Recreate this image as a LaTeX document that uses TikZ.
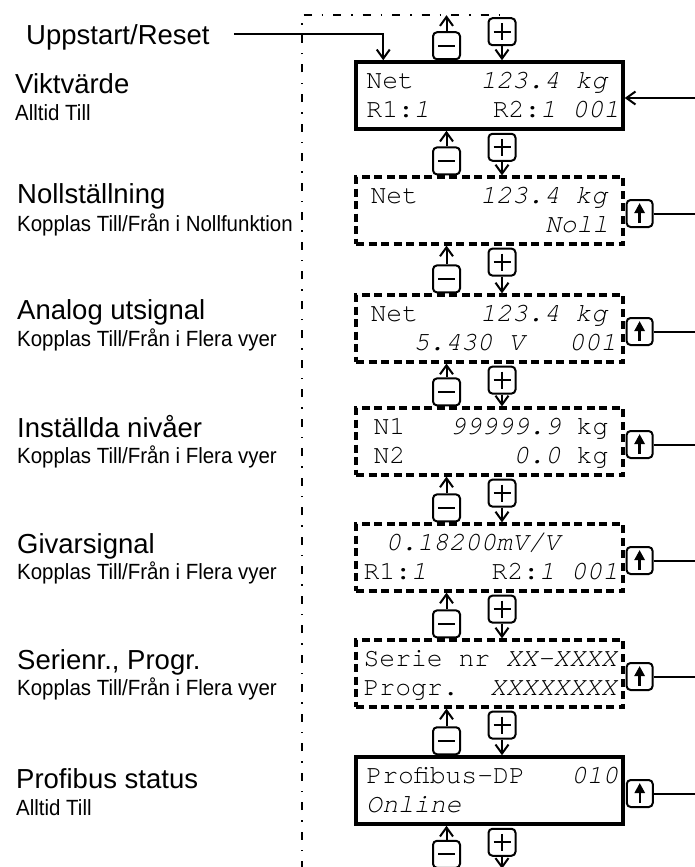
\documentclass[tikz,border=0pt]{standalone}
\usepackage{fontspec}
\setmainfont{Liberation Sans}
\setmonofont{TeX Gyre Cursor}
\newfontfamily\narrowsans[FakeStretch=0.93]{Liberation Sans}
\usetikzlibrary{arrows.meta,positioning}
\newcommand\headfont{\fontsize{27.5}{33}\selectfont}
\newcommand\subfont{\narrowsans\fontsize{22}{26}\selectfont}
\newcommand\lcdfont{\ttfamily\fontsize{26.4}{30}\selectfont}

\begin{document}
\begin{tikzpicture}[x=1pt, y=-1pt,
  head/.style={font=\headfont, inner sep=0pt, anchor=base west},
  sub/.style={font=\subfont, inner sep=0pt, anchor=base west},
  lcd/.style={draw, line width=3.5pt, minimum width=267pt, minimum height=67pt, inner sep=0pt},
  lcddash/.style={lcd, line width=3.2pt, dash pattern=on 8pt off 4.5pt},
  txt/.style={font=\lcdfont, inner sep=0pt, anchor=base west},
  txtr/.style={txt, anchor=base east},
  btn/.style={draw, line width=2pt, rounded corners=4pt, minimum width=27pt,
              minimum height=27pt, inner sep=0pt},
  minusbtn/.style={btn, path picture={\draw[line width=2pt]
      ([xshift=5pt]path picture bounding box.west) -- ([xshift=-5pt]path picture bounding box.east);}},
  plusbtn/.style={btn, path picture={\draw[line width=2pt]
      ([xshift=5pt]path picture bounding box.west) -- ([xshift=-5pt]path picture bounding box.east)
      ([yshift=-5pt]path picture bounding box.north) -- ([yshift=5pt]path picture bounding box.south);}},
  upbtn/.style={btn, minimum width=26pt, path picture={\draw[line width=2.5pt, -{Triangle[length=10pt,width=10pt]}]
      ([yshift=4pt]path picture bounding box.south) -- ([yshift=-3pt]path picture bounding box.north);}},
  anchorpt/.style={inner sep=0pt, minimum size=0pt},
  conn/.style={line width=2pt},
  arr/.style={line width=2pt, -{Straight Barb[length=9pt,width=13pt]}},
  loopline/.style={line width=2pt, dash pattern=on 8pt off 10pt on 1.5pt off 10pt}
]
\useasboundingbox (0,0) rectangle (695,867);

% left column labels
\node[head] (reset) at (26,45) {Uppstart/Reset};
\node[head] (h1) at (15,93) {Viktvärde};
\node[sub]  (s1) at (15,120) {Alltid Till};
\node[head] (h2) at (17,203) {Nollställning};
\node[sub]  (s2) at (17,231) {Kopplas Till/Från i Nollfunktion};
\node[head] (h3) at (17,319) {Analog utsignal};
\node[sub]  (s3) at (17,346) {Kopplas Till/Från i Flera vyer};
\node[head] (h4) at (17,437) {Inställda nivåer};
\node[sub]  (s4) at (17,463) {Kopplas Till/Från i Flera vyer};
\node[head] (h5) at (17,553) {Givarsignal};
\node[sub]  (s5) at (17,579) {Kopplas Till/Från i Flera vyer};
\node[head] (h6) at (17,669) {Serienr., Progr.};
\node[sub]  (s6) at (17,695) {Kopplas Till/Från i Flera vyer};
\node[head] (h7) at (16,788) {Profibus status};
\node[sub]  (s7) at (16,815) {Alltid Till};

% displays
\node[lcd]     (d1) at (489.5,95.5)  {};
\node[lcddash] (d2) at (489.5,210.5) {};
\node[lcddash] (d3) at (489.5,328.5) {};
\node[lcddash] (d4) at (489.5,441.5) {};
\node[lcddash] (d5) at (489.5,557.5) {};
\node[lcddash] (d6) at (489.5,673.5) {};
\node[lcd]     (d7) at (489.5,790.5) {};
\node[anchorpt] (d0) at (505,15) {};
\node[anchorpt] (d8) at (489.5,869) {};

\node[txt]  (t1a) at ([shift={(12,28)}]d1.north west) {Net};
\node[txtr] (t1b) at ([shift={(-16,28)}]d1.north east) {\textit{123.4 kg}};
\node[txt]  (t1c) at ([shift={(12,57)}]d1.north west) {R1:\textit{1}};
\node[txtr] (t1d) at ([shift={(-5,57)}]d1.north east) {R2:\textit{1 001}};

\node[txt]  (t2a) at ([shift={(16,28)}]d2.north west) {Net};
\node[txtr] (t2b) at ([shift={(-16,28)}]d2.north east) {\textit{123.4 kg}};
\node[txtr] (t2c) at ([shift={(-16,57)}]d2.north east) {\textit{Noll}};

\node[txt]  (t3a) at ([shift={(16,28)}]d3.north west) {Net};
\node[txtr] (t3b) at ([shift={(-16,28)}]d3.north east) {\textit{123.4 kg}};
\node[txt]  (t3c) at ([shift={(59,57)}]d3.north west) {\textit{5.430 V}};
\node[txtr] (t3d) at ([shift={(-8,57)}]d3.north east) {\textit{001}};

\node[txt]  (t4a) at ([shift={(19,28)}]d4.north west) {N1};
\node[txtr] (t4b) at ([shift={(-16,28)}]d4.north east) {\textit{99999.9} kg};
\node[txt]  (t4c) at ([shift={(19,57)}]d4.north west) {N2};
\node[txtr] (t4d) at ([shift={(-16,57)}]d4.north east) {\textit{0.0} kg};

\node[txt]  (t5a) at ([shift={(31,28)}]d5.north west) {\textit{0.18200mV/V}};
\node[txt]  (t5b) at ([shift={(9,57)}]d5.north west) {R1:\textit{1}};
\node[txtr] (t5c) at ([shift={(-6,57)}]d5.north east) {R2:\textit{1 001}};

\node[txt]  (t6a) at ([shift={(9,28)}]d6.north west) {Serie nr};
\node[txtr] (t6b) at ([shift={(-6,28)}]d6.north east) {\textit{XX-XXXX}};
\node[txt]  (t6c) at ([shift={(9,57)}]d6.north west) {Progr.};
\node[txtr] (t6d) at ([shift={(-6,57)}]d6.north east) {\textit{XXXXXXXX}};

\node[txt]  (t7a) at ([shift={(12,28)}]d7.north west) {Profibus-DP};
\node[txtr] (t7b) at ([shift={(-6,28)}]d7.north east) {\textit{010}};
\node[txt]  (t7c) at ([shift={(12,57)}]d7.north west) {\textit{Online}};

% minus / plus keys between the views
\coordinate (mx) at (446.5,0);
\coordinate (px) at (502,0);
\foreach \k [count=\j from 0] in {1,...,8}{
  \node[minusbtn, anchor=south] (mi\k) at (mx |- d\k.north) {};
  \node[plusbtn, anchor=north, yshift=-2pt] (pl\k) at (px |- d\j.south) {};
  \draw[arr] (mi\k) -- (mi\k |- d\j.south);
  \draw[arr] (pl\k) -- (pl\k |- d\k.north);
}

% up keys on the right
\coordinate (rim) at (695,0);
\foreach \k in {2,...,7}{
  \node[upbtn, anchor=west, xshift=1pt, yshift=-3pt] (up\k) at (d\k.east) {};
  \draw[conn] (up\k) -- (up\k -| rim);
}
\coordinate (in1) at (695,98);
\draw[arr] (in1) -- (in1 -| d1.east);

% start and wrap-around
\draw[arr] ([shift={(24,-11)}]reset.base east) -| ([xshift=29pt]d1.north west);
\coordinate (lc) at (302,15);
\draw[loopline] (lc |- d8) -- (lc) -- (d0);
\end{tikzpicture}
\end{document}
